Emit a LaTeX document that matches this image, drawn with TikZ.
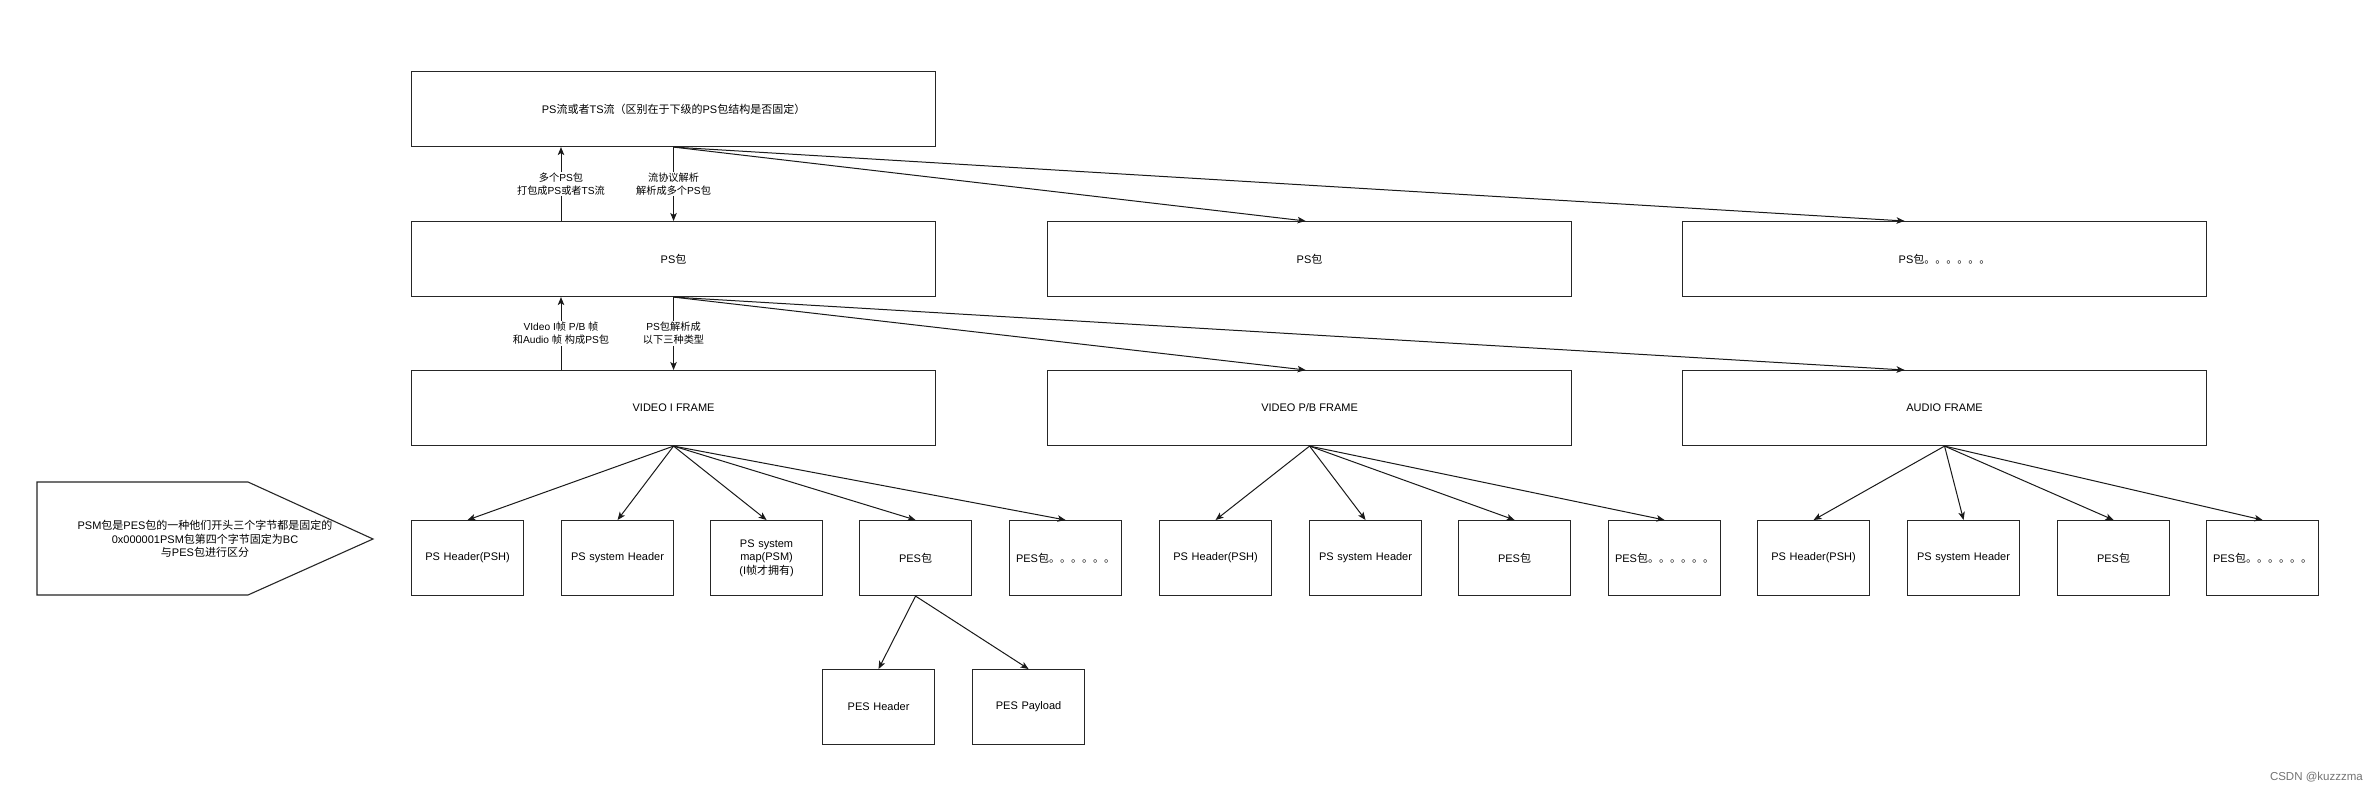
\documentclass[tikz,border=0pt]{standalone}
\usepackage{fontspec}
\setmainfont{Liberation Sans}
\newfontfamily\cjk{Noto Sans CJK SC}
\usetikzlibrary{arrows.meta}
% automatic switch to the CJK font for CJK characters
\XeTeXinterchartokenstate=1
\newXeTeXintercharclass\cjkclass
\newcount\cjkc
\def\setcjkrange#1#2{\cjkc=#1
  \loop
    \XeTeXcharclass\cjkc=\cjkclass
    \advance\cjkc by 1
  \ifnum\cjkc<#2 \repeat}
\setcjkrange{"3000}{"3040}
\setcjkrange{"4E00}{"A000}
\setcjkrange{"FF00}{"FFF0}
\XeTeXinterchartoks 0 \cjkclass = {\cjk}
\XeTeXinterchartoks 4095 \cjkclass = {\cjk}
\XeTeXinterchartoks \cjkclass 0 = {\normalfont}
\XeTeXinterchartoks \cjkclass 4095 = {\normalfont}
\tikzset{
  box/.style={draw=black!85, line width=1.1pt, fill=white, rectangle, inner sep=2pt,
    anchor=north west, align=center, font=\fontsize{11}{13.5}\selectfont},
  big/.style={box, minimum width=524pt, minimum height=75pt},
  small/.style={box, minimum width=112pt, minimum height=75pt, text width=108pt},
  arr/.style={draw=black!90, line width=1pt, -{Stealth[length=8pt,width=6.5pt,inset=2pt]}},
  lbl/.style={fill=white, inner sep=1pt, align=center, font=\fontsize{10.2}{13}\selectfont},
}
\begin{document}
\begin{tikzpicture}[x=1pt,y=-1pt]
\fill[white] (0,0) rectangle (2379,791);
\useasboundingbox (0,0) rectangle (2379,791);

% level 1
\node[big] (top) at (411,71) {PS流或者TS流（区别在于下级的PS包结构是否固定）};
% level 2
\node[big] (ps1) at (411,221) {PS包};
\node[big] (ps2) at (1047,221) {PS包};
\node[big] (ps3) at (1682,221) {PS包。。。。。。};
% level 3
\node[big] (f1) at (411,370) {VIDEO I FRAME};
\node[big] (f2) at (1047,370) {VIDEO P/B FRAME};
\node[big] (f3) at (1682,370) {AUDIO FRAME};
% level 4
\node[small] (s1) at (411,520) {PS Header(PSH)};
\node[small] (s2) at (561,520) {PS system Header};
\node[small] (s3) at (710,520) {PS system\\map(PSM)\\(I帧才拥有)};
\node[small] (s4) at (859,520) {PES包};
\node[small] (s5) at (1009,520) {PES包。。。。。。};
\node[small] (s6) at (1159,520) {PS Header(PSH)};
\node[small] (s7) at (1309,520) {PS system Header};
\node[small] (s8) at (1458,520) {PES包};
\node[small] (s9) at (1608,520) {PES包。。。。。。};
\node[small] (s10) at (1757,520) {PS Header(PSH)};
\node[small] (s11) at (1907,520) {PS system Header};
\node[small] (s12) at (2057,520) {PES包};
\node[small] (s13) at (2206,520) {PES包。。。。。。};
% level 5
\node[small] (pesh) at (822,669) {PES Header};
\node[small] (pesp) at (972,669) {PES Payload};

% note pentagon
\draw[draw=black!85, line width=1.1pt, fill=white]
  (37,482) coordinate (pa) -- (248,482) -- (373,539) coordinate (ptip) -- (248,595) -- (37,595) -- cycle;
\node[align=center, font=\fontsize{11}{13.5}\selectfont] (psm) at (205,539)
  {PSM包是PES包的一种他们开头三个字节都是固定的\\0x000001PSM包第四个字节固定为BC\\与PES包进行区分};

% connectors level 1-2
\draw[arr] (top.south) -- node[lbl]{流协议解析\\解析成多个PS包} (ps1.north);
\draw[arr] ([xshift=150pt]ps1.north west) -- node[lbl]{多个PS包\\打包成PS或者TS流} ([xshift=150pt]top.south west);
\draw[arr] (top.south) -- ([xshift=-4pt]ps2.north);
\draw[arr] (top.south) -- ([xshift=-40pt]ps3.north);
% level 2-3
\draw[arr] (ps1.south) -- node[lbl]{PS包解析成\\以下三种类型} (f1.north);
\draw[arr] ([xshift=150pt]f1.north west) -- node[lbl]{VIdeo I帧 P/B 帧\\和Audio 帧 构成PS包} ([xshift=150pt]ps1.south west);
\draw[arr] (ps1.south) -- ([xshift=-4pt]f2.north);
\draw[arr] (ps1.south) -- ([xshift=-40pt]f3.north);
% level 3-4
\foreach \t in {s1,s2,s3,s4,s5} \draw[arr] (f1.south) -- (\t.north);
\foreach \t in {s6,s7,s8,s9} \draw[arr] (f2.south) -- (\t.north);
\foreach \t in {s10,s11,s12,s13} \draw[arr] (f3.south) -- (\t.north);
% level 4-5
\draw[arr] (s4.south) -- (pesh.north);
\draw[arr] (s4.south) -- (pesp.north);

% credit
\node[anchor=east, text=black!55, font=\fontsize{11.5}{13}\selectfont, inner sep=0pt] (credit) at (2363,777) {CSDN @kuzzzma};
\end{tikzpicture}
\end{document}
